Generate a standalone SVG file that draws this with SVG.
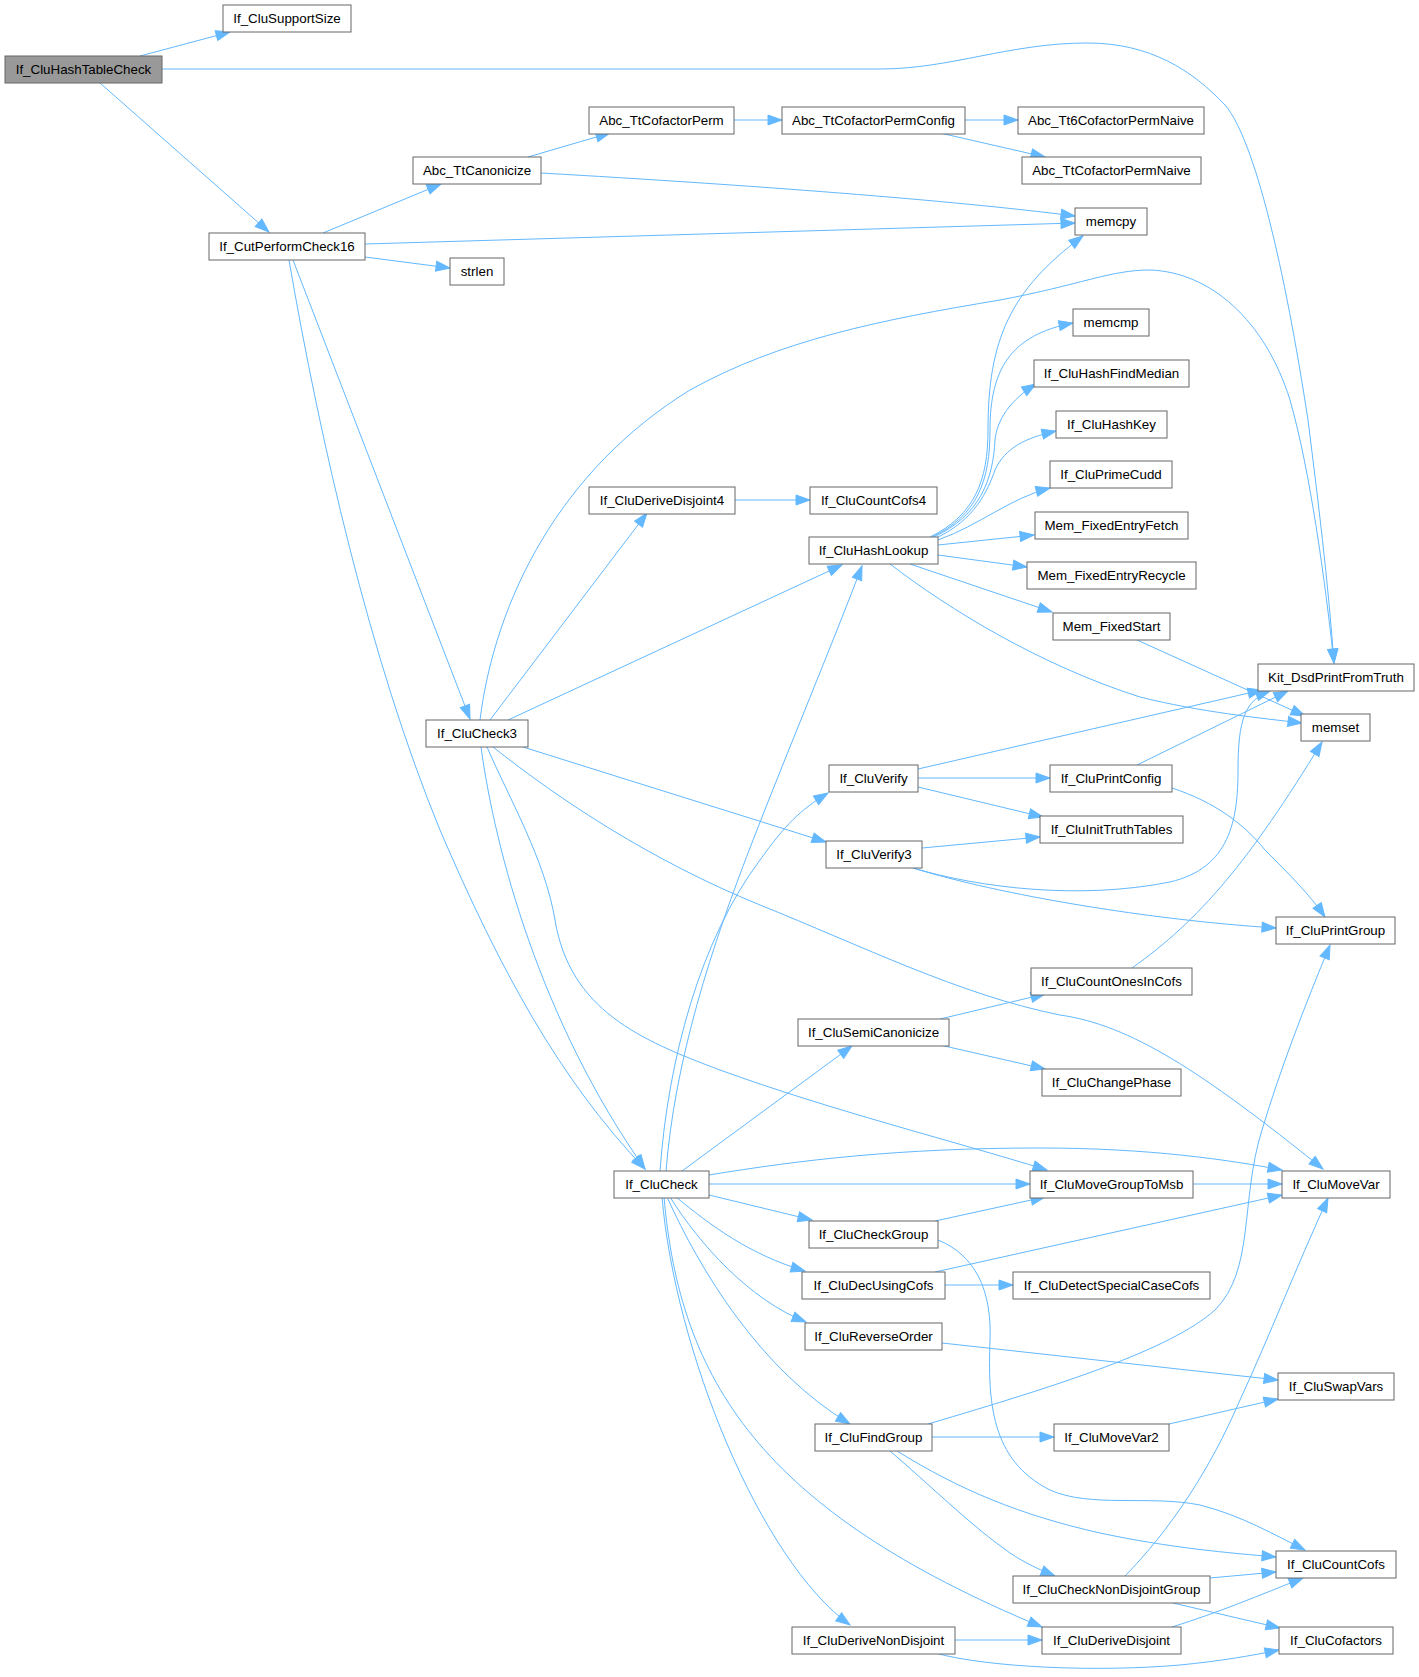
<svg xmlns="http://www.w3.org/2000/svg" width="1419" height="1677" viewBox="0 0 1419 1677">
<defs>
<style>
.n rect{fill:#ffffff;stroke:#666666;stroke-width:1}
.n.root rect{fill:#999999}
.n text{font-family:"Liberation Sans",Arial,sans-serif;font-size:13.33px;fill:#000000;text-anchor:middle}
.e path{fill:none;stroke:#63b8ff;stroke-width:1;marker-end:url(#ah)}
</style>
<marker id="ah" markerUnits="userSpaceOnUse" markerWidth="15" markerHeight="11" refX="14" refY="5" orient="auto" overflow="visible">
<path d="M0,0 L14,5 L0,10 z" fill="#63b8ff" stroke="#63b8ff" stroke-width="1"/>
</marker>
</defs>
<rect width="1419" height="1677" fill="#ffffff"/>
<g id="connectors" class="e">
<path d="M140,56 L230,32"/>
<path d="M162,69 L880,69 C950,69 1010,43 1087,43 C1150,43 1192,70 1225,105 C1255,140 1285,270 1308,420 C1318,500 1328,580 1334,663"/>
<path d="M100,83 L269,232"/>
<path d="M323,233 L441,184"/>
<path d="M365,244 L1075,223"/>
<path d="M365,257 L450,268"/>
<path d="M293,260 L470,719"/>
<path d="M289,260 C320,440 370,660 440,830 C500,970 560,1080 645,1169"/>
<path d="M528,157 L610,133"/>
<path d="M541,173 C750,185 950,200 1075,216"/>
<path d="M734,120 L782,120"/>
<path d="M965,120 L1018,120"/>
<path d="M940,133 L1045,157"/>
<path d="M480,720 C495,600 560,470 690,390 C780,340 880,320 1000,300 C1080,285 1110,270 1150,270 C1210,272 1265,320 1290,400 C1310,470 1325,580 1334,663"/>
<path d="M490,720 L647,513"/>
<path d="M508,720 L842,565"/>
<path d="M523,747 L826,842"/>
<path d="M481,747 C495,850 540,1020 645,1169"/>
<path d="M487,747 C510,800 545,860 555,920 C570,1010 640,1040 720,1070 C830,1110 950,1140 1047,1170"/>
<path d="M493,747 C560,800 650,860 760,905 C860,945 960,995 1060,1015 C1130,1025 1200,1070 1323,1169"/>
<path d="M735,500 L810,500"/>
<path d="M930,537 C975,515 988,480 988,430 C988,340 1010,290 1083,236"/>
<path d="M932,537 C978,515 990,480 990,430 C990,370 1010,335 1073,323"/>
<path d="M934,537 C980,515 993,480 995,440 C997,420 1010,400 1036,384"/>
<path d="M936,538 C975,520 988,490 995,470 C1005,448 1025,438 1056,431"/>
<path d="M938,540 C980,525 1010,498 1050,488"/>
<path d="M938,545 L1034,535"/>
<path d="M938,555 L1027,567"/>
<path d="M910,564 L1052,612"/>
<path d="M890,564 C950,610 1040,665 1140,697 C1200,712 1260,718 1302,723"/>
<path d="M666,1171 C675,1060 710,950 755,835 C790,745 830,650 862,566"/>
<path d="M660,1171 C668,1060 700,940 760,860 C785,825 800,810 828,793"/>
<path d="M682,1171 L852,1046"/>
<path d="M709,1175 C800,1160 900,1148 1040,1148 C1150,1148 1230,1160 1282,1170"/>
<path d="M709,1184 L1030,1184"/>
<path d="M709,1195 L812,1220"/>
<path d="M676,1197 C710,1225 750,1255 805,1271"/>
<path d="M670,1197 C700,1245 750,1300 806,1322"/>
<path d="M667,1197 C700,1270 760,1370 850,1424"/>
<path d="M664,1197 C680,1380 760,1510 1042,1627"/>
<path d="M662,1197 C675,1350 760,1560 850,1625"/>
<path d="M918,769 L1262,690"/>
<path d="M918,778 L1050,778"/>
<path d="M918,787 L1043,817"/>
<path d="M922,848 L1040,837"/>
<path d="M913,868 C980,888 1080,900 1170,882 C1230,868 1238,820 1238,770 C1238,720 1245,700 1270,691"/>
<path d="M913,868 C1000,895 1150,920 1276,928"/>
<path d="M1137,765 L1288,691"/>
<path d="M1172,788 C1215,802 1245,825 1265,850 C1290,875 1310,895 1325,917"/>
<path d="M1137,640 L1305,716"/>
<path d="M1132,968 C1200,920 1250,860 1322,742"/>
<path d="M940,1019 L1045,994"/>
<path d="M940,1045 L1045,1069"/>
<path d="M1193,1184 L1282,1184"/>
<path d="M935,1221 L1045,1197"/>
<path d="M938,1240 C975,1255 992,1290 990,1340 C988,1400 990,1460 1050,1490 C1090,1508 1150,1495 1200,1505 C1240,1515 1275,1535 1305,1550"/>
<path d="M935,1272 L1282,1195"/>
<path d="M945,1285 L1013,1285"/>
<path d="M942,1343 L1278,1380"/>
<path d="M928,1424 C1060,1385 1170,1350 1215,1310 C1255,1270 1240,1200 1262,1130 C1280,1070 1305,1005 1330,945"/>
<path d="M932,1437 L1054,1437"/>
<path d="M897,1451 C960,1490 1020,1515 1100,1533 C1170,1548 1230,1553 1276,1557"/>
<path d="M890,1451 C930,1485 970,1525 1010,1553 C1025,1563 1040,1570 1055,1576"/>
<path d="M1169,1424 L1278,1399"/>
<path d="M1125,1576 C1170,1530 1210,1470 1240,1400 C1270,1335 1295,1270 1328,1198"/>
<path d="M1210,1578 L1276,1572"/>
<path d="M1173,1603 L1280,1628"/>
<path d="M1172,1627 C1220,1612 1260,1595 1303,1578"/>
<path d="M955,1640 L1042,1640"/>
<path d="M935,1653 C990,1668 1100,1672 1180,1665 C1220,1661 1250,1656 1279,1650"/>
</g>
<g id="n_If_CluHashTableCheck" class="n root"><rect x="5" y="56" width="157" height="27"/><text x="83.5" y="74">If_CluHashTableCheck</text></g>
<g id="n_If_CluSupportSize" class="n"><rect x="223" y="5" width="128" height="27"/><text x="287" y="23">If_CluSupportSize</text></g>
<g id="n_If_CutPerformCheck16" class="n"><rect x="209" y="233" width="156" height="27"/><text x="287" y="251">If_CutPerformCheck16</text></g>
<g id="n_Abc_TtCanonicize" class="n"><rect x="413" y="157" width="128" height="27"/><text x="477" y="175">Abc_TtCanonicize</text></g>
<g id="n_strlen" class="n"><rect x="450" y="258" width="54" height="27"/><text x="477" y="276">strlen</text></g>
<g id="n_Abc_TtCofactorPerm" class="n"><rect x="589" y="107" width="145" height="27"/><text x="661.5" y="125">Abc_TtCofactorPerm</text></g>
<g id="n_Abc_TtCofactorPermConfig" class="n"><rect x="782" y="107" width="183" height="27"/><text x="873.5" y="125">Abc_TtCofactorPermConfig</text></g>
<g id="n_Abc_Tt6CofactorPermNaive" class="n"><rect x="1018" y="107" width="186" height="27"/><text x="1111" y="125">Abc_Tt6CofactorPermNaive</text></g>
<g id="n_Abc_TtCofactorPermNaive" class="n"><rect x="1022" y="157" width="179" height="27"/><text x="1111.5" y="175">Abc_TtCofactorPermNaive</text></g>
<g id="n_memcpy" class="n"><rect x="1075" y="208" width="72" height="27"/><text x="1111" y="226">memcpy</text></g>
<g id="n_Kit_DsdPrintFromTruth" class="n"><rect x="1258" y="664" width="156" height="27"/><text x="1336" y="682">Kit_DsdPrintFromTruth</text></g>
<g id="n_memcmp" class="n"><rect x="1073" y="309" width="76" height="27"/><text x="1111" y="327">memcmp</text></g>
<g id="n_If_CluHashFindMedian" class="n"><rect x="1034" y="360" width="155" height="27"/><text x="1111.5" y="378">If_CluHashFindMedian</text></g>
<g id="n_If_CluHashKey" class="n"><rect x="1056" y="411" width="111" height="27"/><text x="1111.5" y="429">If_CluHashKey</text></g>
<g id="n_If_CluPrimeCudd" class="n"><rect x="1050" y="461" width="122" height="27"/><text x="1111" y="479">If_CluPrimeCudd</text></g>
<g id="n_Mem_FixedEntryFetch" class="n"><rect x="1035" y="512" width="153" height="27"/><text x="1111.5" y="530">Mem_FixedEntryFetch</text></g>
<g id="n_Mem_FixedEntryRecycle" class="n"><rect x="1027" y="562" width="169" height="27"/><text x="1111.5" y="580">Mem_FixedEntryRecycle</text></g>
<g id="n_Mem_FixedStart" class="n"><rect x="1053" y="613" width="117" height="27"/><text x="1111.5" y="631">Mem_FixedStart</text></g>
<g id="n_memset" class="n"><rect x="1301" y="714" width="69" height="27"/><text x="1335.5" y="732">memset</text></g>
<g id="n_If_CluDeriveDisjoint4" class="n"><rect x="589" y="487" width="146" height="27"/><text x="662" y="505">If_CluDeriveDisjoint4</text></g>
<g id="n_If_CluCountCofs4" class="n"><rect x="810" y="487" width="127" height="27"/><text x="873.5" y="505">If_CluCountCofs4</text></g>
<g id="n_If_CluHashLookup" class="n"><rect x="809" y="537" width="129" height="27"/><text x="873.5" y="555">If_CluHashLookup</text></g>
<g id="n_If_CluCheck3" class="n"><rect x="426" y="720" width="102" height="27"/><text x="477" y="738">If_CluCheck3</text></g>
<g id="n_If_CluVerify" class="n"><rect x="829" y="765" width="89" height="27"/><text x="873.5" y="783">If_CluVerify</text></g>
<g id="n_If_CluPrintConfig" class="n"><rect x="1050" y="765" width="122" height="27"/><text x="1111" y="783">If_CluPrintConfig</text></g>
<g id="n_If_CluInitTruthTables" class="n"><rect x="1040" y="816" width="143" height="27"/><text x="1111.5" y="834">If_CluInitTruthTables</text></g>
<g id="n_If_CluVerify3" class="n"><rect x="826" y="841" width="96" height="27"/><text x="874" y="859">If_CluVerify3</text></g>
<g id="n_If_CluPrintGroup" class="n"><rect x="1276" y="917" width="119" height="27"/><text x="1335.5" y="935">If_CluPrintGroup</text></g>
<g id="n_If_CluCountOnesInCofs" class="n"><rect x="1031" y="968" width="161" height="27"/><text x="1111.5" y="986">If_CluCountOnesInCofs</text></g>
<g id="n_If_CluSemiCanonicize" class="n"><rect x="798" y="1019" width="151" height="27"/><text x="873.5" y="1037">If_CluSemiCanonicize</text></g>
<g id="n_If_CluChangePhase" class="n"><rect x="1042" y="1069" width="139" height="27"/><text x="1111.5" y="1087">If_CluChangePhase</text></g>
<g id="n_If_CluCheck" class="n"><rect x="614" y="1171" width="95" height="27"/><text x="661.5" y="1189">If_CluCheck</text></g>
<g id="n_If_CluMoveGroupToMsb" class="n"><rect x="1030" y="1171" width="163" height="27"/><text x="1111.5" y="1189">If_CluMoveGroupToMsb</text></g>
<g id="n_If_CluMoveVar" class="n"><rect x="1282" y="1171" width="108" height="27"/><text x="1336" y="1189">If_CluMoveVar</text></g>
<g id="n_If_CluCheckGroup" class="n"><rect x="809" y="1221" width="129" height="27"/><text x="873.5" y="1239">If_CluCheckGroup</text></g>
<g id="n_If_CluDecUsingCofs" class="n"><rect x="802" y="1272" width="143" height="27"/><text x="873.5" y="1290">If_CluDecUsingCofs</text></g>
<g id="n_If_CluDetectSpecialCaseCofs" class="n"><rect x="1013" y="1272" width="197" height="27"/><text x="1111.5" y="1290">If_CluDetectSpecialCaseCofs</text></g>
<g id="n_If_CluReverseOrder" class="n"><rect x="805" y="1323" width="137" height="27"/><text x="873.5" y="1341">If_CluReverseOrder</text></g>
<g id="n_If_CluSwapVars" class="n"><rect x="1278" y="1373" width="116" height="27"/><text x="1336" y="1391">If_CluSwapVars</text></g>
<g id="n_If_CluFindGroup" class="n"><rect x="815" y="1424" width="117" height="27"/><text x="873.5" y="1442">If_CluFindGroup</text></g>
<g id="n_If_CluMoveVar2" class="n"><rect x="1054" y="1424" width="115" height="27"/><text x="1111.5" y="1442">If_CluMoveVar2</text></g>
<g id="n_If_CluCountCofs" class="n"><rect x="1276" y="1551" width="120" height="27"/><text x="1336" y="1569">If_CluCountCofs</text></g>
<g id="n_If_CluCheckNonDisjointGroup" class="n"><rect x="1013" y="1576" width="197" height="27"/><text x="1111.5" y="1594">If_CluCheckNonDisjointGroup</text></g>
<g id="n_If_CluDeriveNonDisjoint" class="n"><rect x="792" y="1627" width="163" height="27"/><text x="873.5" y="1645">If_CluDeriveNonDisjoint</text></g>
<g id="n_If_CluDeriveDisjoint" class="n"><rect x="1042" y="1627" width="139" height="27"/><text x="1111.5" y="1645">If_CluDeriveDisjoint</text></g>
<g id="n_If_CluCofactors" class="n"><rect x="1279" y="1627" width="114" height="27"/><text x="1336" y="1645">If_CluCofactors</text></g>
</svg>
